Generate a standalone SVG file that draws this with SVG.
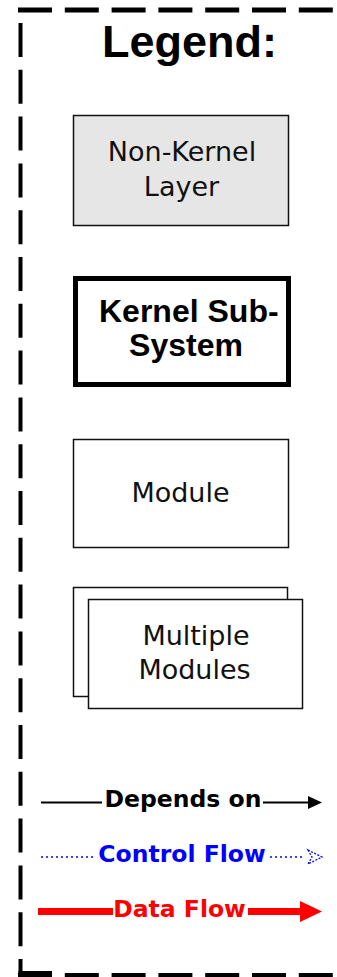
<svg xmlns="http://www.w3.org/2000/svg" width="337" height="977" viewBox="0 0 337 977">
<style>
.frame{fill:none;stroke:#000;stroke-width:4;stroke-dasharray:34 12.8}
.box{stroke:#111;stroke-width:1.5}
.reg{font-family:"DejaVu Sans",Verdana,sans-serif;font-size:27px;fill:#111;text-anchor:middle}
.bold{font-family:"Liberation Sans",Arial,sans-serif;font-weight:bold;fill:#000;text-anchor:middle}
.lbl{font-family:"DejaVu Sans",Verdana,sans-serif;font-weight:bold;font-size:23.5px;text-anchor:middle}
</style>
<rect width="337" height="977" fill="#fff"/>
<g id="frame">
<line class="frame" x1="18" y1="10" x2="337" y2="10" style="stroke-width:5"/>
<line class="frame" x1="20.5" y1="23" x2="20.5" y2="975"/>
<line class="frame" x1="18" y1="975" x2="337" y2="975"/>
<line x1="18.5" y1="973" x2="52" y2="973" stroke="#000" stroke-width="4"/>
</g>
<g id="title">
<text class="bold" x="189.5" y="57" font-size="45">Legend:</text>
</g>
<g id="non-kernel-layer">
<rect class="box" x="73.5" y="115.5" width="215" height="110" fill="#e6e6e6"/>
<text class="reg" x="182" y="160.5">Non-Kernel</text>
<text class="reg" x="181.5" y="196">Layer</text>
</g>
<g id="kernel-subsystem">
<rect x="75.5" y="278.5" width="213" height="106" fill="#fff" stroke="#000" stroke-width="5"/>
<text class="bold" x="99" y="322" font-size="32" style="text-anchor:start">Kernel Sub-</text>
<text class="bold" x="186" y="356" font-size="32">System</text>
</g>
<g id="module">
<rect class="box" x="73.5" y="439.5" width="215" height="108" fill="#fff"/>
<text class="reg" x="180.5" y="501.5">Module</text>
</g>
<g id="multiple-modules">
<rect class="box" x="73.5" y="587.5" width="214" height="109" fill="#fff"/>
<rect class="box" x="88.5" y="599.5" width="214" height="109" fill="#fff"/>
<text class="reg" x="196" y="645">Multiple</text>
<text class="reg" x="194.5" y="679">Modules</text>
</g>
<g id="connectors">
<line x1="41" y1="802.5" x2="102" y2="802.5" stroke="#000" stroke-width="2"/>
<line x1="263" y1="802.5" x2="310" y2="802.5" stroke="#000" stroke-width="2"/>
<polygon points="308,796 322,802.5 308,809" fill="#000"/>
<line x1="41" y1="857" x2="95" y2="857" stroke="#0000ff" stroke-width="1.5" stroke-dasharray="2 3"/>
<line x1="270" y1="857" x2="303" y2="857" stroke="#0000ff" stroke-width="1.5" stroke-dasharray="2 3"/>
<polygon points="308,850 322,857 308,864 312,857" fill="none" stroke="#0000ff" stroke-width="1.3" stroke-dasharray="2 1.5"/>
<line x1="38" y1="911.5" x2="113" y2="911.5" stroke="#ff0000" stroke-width="7"/>
<line x1="248" y1="911.5" x2="303" y2="911.5" stroke="#ff0000" stroke-width="7"/>
<polygon points="300,901 322,911.5 300,922" fill="#ff0000"/>
</g>
<g id="labels">
<text class="lbl" x="183" y="807" fill="#000">Depends on</text>
<text class="lbl" x="182" y="862" fill="#0000ff">Control Flow</text>
<text class="lbl" x="179.5" y="917" fill="#ff0000">Data Flow</text>
</g>
</svg>
